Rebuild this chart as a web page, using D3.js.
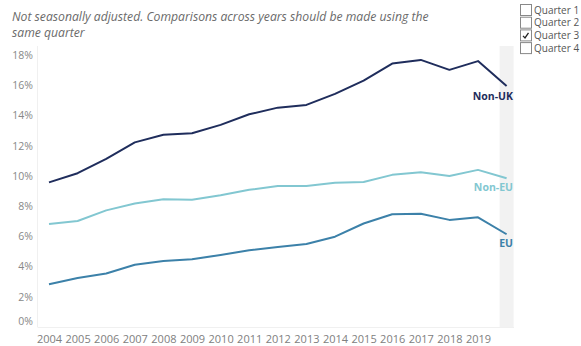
<!DOCTYPE html>
<html><head><meta charset="utf-8">
<script src="https://cdn.jsdelivr.net/npm/d3@7"></script>
<style>body{margin:0;background:#fff}svg{display:block}</style>
</head><body><svg id="c" width="581" height="346"></svg>
<script>
const years = [2004,2005,2006,2007,2008,2009,2010,2011,2012,2013,2014,2015,2016,2017,2018,2019,2020];
const yearLabels = ["2004","2005","2006","2007","2008","2009","2010","2011","2012","2013","2014","2015","2016","2017","2018","2019"];
const nonUK = [9.57,10.18,11.13,12.22,12.72,12.83,13.38,14.08,14.52,14.70,15.43,16.31,17.44,17.68,17.02,17.60,15.96];
const nonEU = [6.82,7.02,7.72,8.17,8.46,8.43,8.72,9.08,9.34,9.33,9.55,9.60,10.07,10.24,10.00,10.40,9.85];
const eu = [2.83,3.24,3.54,4.12,4.37,4.48,4.77,5.08,5.30,5.50,5.98,6.85,7.46,7.50,7.09,7.26,6.14];
const yTicks = [0,2,4,6,8,10,12,14,16,18];
const seriesNames = ["Non-UK","Non-EU","EU"];
const seriesColors = ["#1f2d5c","#82c7d1","#3c81a9"];
const legendItems = ["Quarter 1","Quarter 2","Quarter 3","Quarter 4"];
const legendChecked = [false,false,true,false];
const note = ["Not seasonally adjusted. Comparisons across years should be made using the","same quarter"];

const svg = d3.select("#c");
const x = d3.scaleLinear().domain([2004,2020]).range([49,506.6]);
const y = d3.scaleLinear().domain([0,18.6]).range([327,46]);

// highlight band for latest period
svg.append("rect").attr("x",x(2020)-7).attr("y",y(18.6)).attr("width",14)
  .attr("height",y(0)-y(18.6)).attr("fill","#f2f2f2");

// axis lines
svg.append("line").attr("x1",37.5).attr("x2",37.5).attr("y1",y(18.6)).attr("y2",y(0)).attr("stroke","#f0f0f0");
svg.append("line").attr("x1",37.5).attr("x2",514).attr("y1",y(0)+0.5).attr("y2",y(0)+0.5).attr("stroke","#f0f0f0");

// y axis labels
const yAx = svg.append("g").attr("transform","translate(37,0)")
  .call(d3.axisLeft(y).tickValues(yTicks).tickFormat(d=>d+"%").tickSize(0).tickPadding(4));
yAx.select(".domain").remove();
yAx.selectAll("text").attr("fill","#888").attr("font-size","10.5px").attr("font-family","Open Sans, sans-serif")
  .attr("transform",d=>d===0?"translate(0,-6)":null);

// x axis labels
const xAx = svg.append("g").attr("transform","translate(0,"+(y(0))+")")
  .call(d3.axisBottom(x).tickValues(yearLabels.map(Number)).tickFormat(d=>String(d)).tickSize(0).tickPadding(8));
xAx.select(".domain").remove();
xAx.selectAll("text").attr("fill","#808080").attr("font-size","11px").attr("font-family","Open Sans, sans-serif");

// lines
const line = d3.line().x((d,i)=>x(years[i])).y(d=>y(d));
[nonUK,nonEU,eu].forEach((s,k)=>{
  svg.append("path").datum(s).attr("d",line).attr("fill","none")
    .attr("stroke",seriesColors[k]).attr("stroke-width",2).attr("stroke-linejoin","round");
});

// end labels
const labelOffsets = [14,13,13];
[nonUK,nonEU,eu].forEach((s,k)=>{
  svg.append("text").attr("x",513).attr("y",y(s[s.length-1])+labelOffsets[k])
    .attr("text-anchor","end").attr("font-weight","bold").attr("font-size","10.5px")
    .attr("font-family","Open Sans, sans-serif").attr("fill",seriesColors[k]).text(seriesNames[k]);
});

// note
note.forEach((t,i)=>{
  svg.append("text").attr("x",12).attr("y",21+i*16).attr("font-style","italic")
    .attr("font-size","12.2px").attr("font-family","Open Sans, sans-serif").attr("fill","#6a6a6a").text(t);
});

// legend
const lg = svg.append("g");
legendItems.forEach((t,i)=>{
  const yy = 4+i*12.7;
  lg.append("rect").attr("x",520.5).attr("y",yy+0.5).attr("width",11).attr("height",11)
    .attr("fill","#fff").attr("stroke","#888");
  if(legendChecked[i]){
    lg.append("path").attr("d",`M${523},${yy+6.5} L${525},${yy+8.5} L${528.5},${yy+3.5}`)
      .attr("fill","none").attr("stroke","#222").attr("stroke-width",1.3);
  }
  lg.append("text").attr("x",534).attr("y",yy+9.5).attr("font-size","10px")
    .attr("font-family","Open Sans, sans-serif").attr("fill","#555").text(t);
});
</script></body></html>
